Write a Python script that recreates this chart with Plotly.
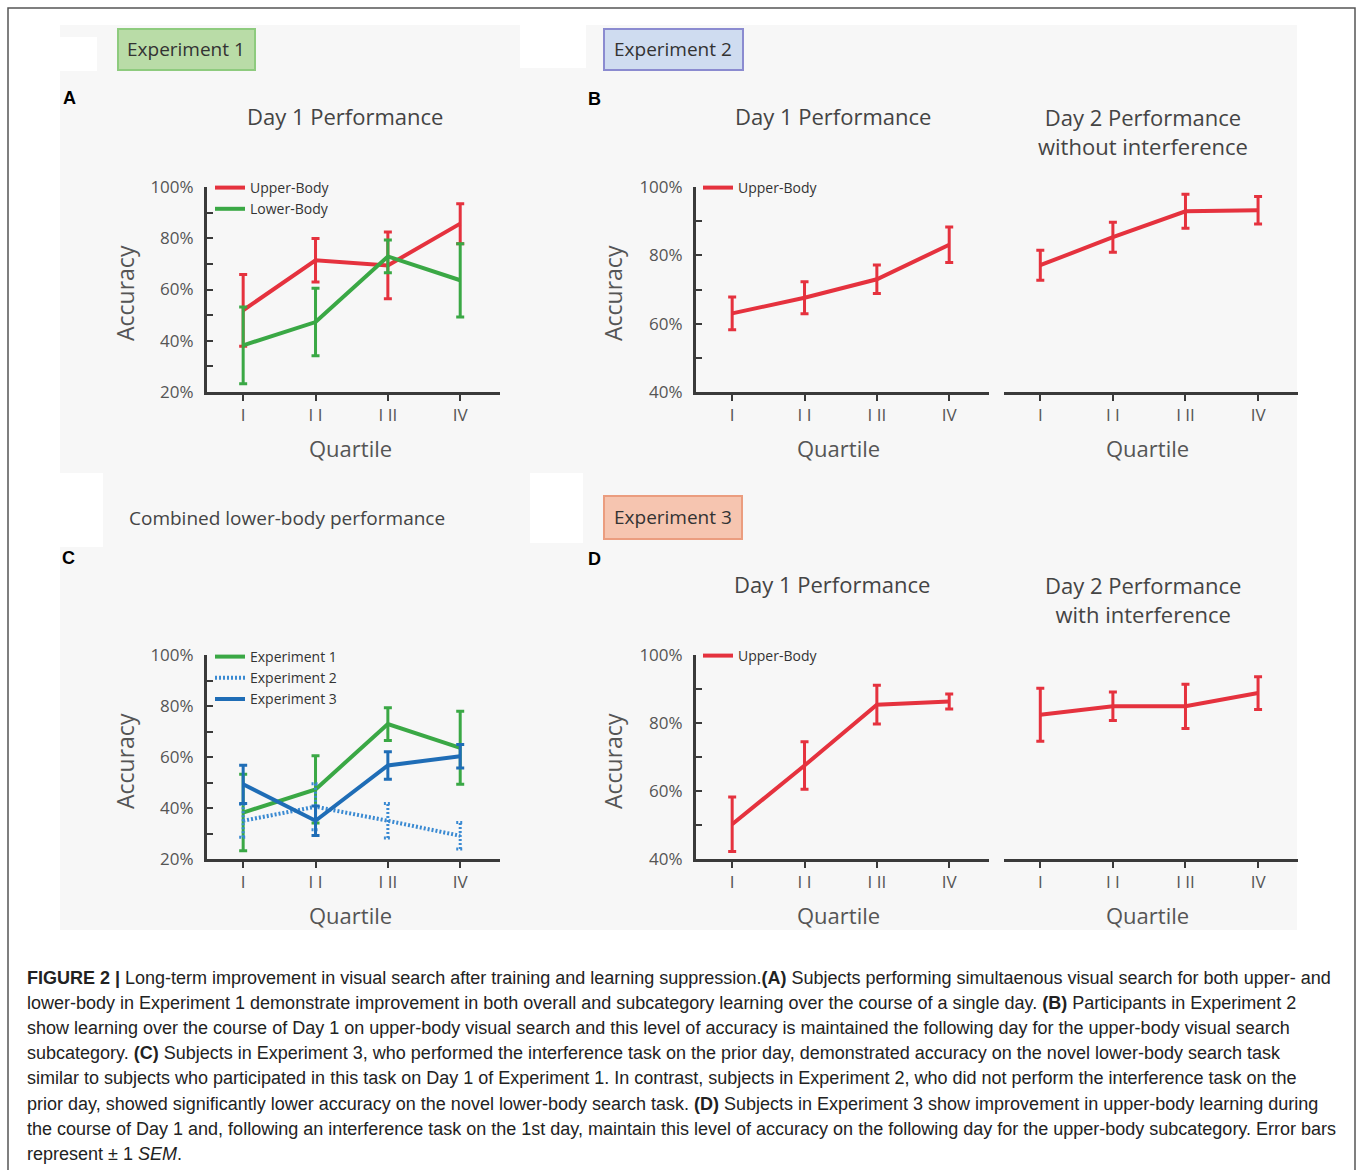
import plotly.graph_objects as go

# ---------------- data ----------------
quartiles = [1, 2, 3, 4]
quartile_labels = ["I", "I I", "I II", "IV"]

# Panel A - Experiment 1, Day 1
a_upper = [51.9, 71.4, 69.4, 85.7]
a_upper_err = [14.0, 8.5, 13.0, 7.8]
a_lower = [38.2, 47.3, 72.9, 63.6]
a_lower_err = [15.0, 13.2, 6.4, 14.3]

# Panel B - Experiment 2
b_day1 = [63.0, 67.6, 73.0, 83.1]
b_day1_err = [4.8, 4.7, 4.2, 5.2]
b_day2 = [77.1, 85.3, 92.9, 93.2]
b_day2_err = [4.4, 4.4, 5.0, 4.0]

# Panel C - combined lower-body
c_exp1 = [38.2, 47.3, 72.9, 63.6]
c_exp1_err = [15.0, 13.2, 6.4, 14.3]
c_exp2 = [35.0, 40.5, 35.0, 29.1]
c_exp2_err = [6.5, 9.0, 6.8, 5.2]
c_exp3 = [49.3, 35.0, 56.7, 60.3]
c_exp3_err = [7.5, 5.8, 5.4, 4.6]

# Panel D - Experiment 3
d_day1 = [50.2, 67.5, 85.4, 86.3]
d_day1_err = [8.0, 7.0, 5.7, 2.2]
d_day2 = [82.4, 84.9, 84.9, 88.8]
d_day2_err = [7.8, 4.2, 6.5, 4.8]

ticks_20 = [20, 40, 60, 80, 100]
ticks_40 = [40, 60, 80, 100]

caption_lines = [
    "<b>FIGURE 2 |</b> Long-term improvement in visual search after training and learning suppression.<b>(A)</b> Subjects performing simultaenous visual search for both upper- and",
    "lower-body in Experiment 1 demonstrate improvement in both overall and subcategory learning over the course of a single day. <b>(B)</b> Participants in Experiment 2",
    "show learning over the course of Day 1 on upper-body visual search and this level of accuracy is maintained the following day for the upper-body visual search",
    "subcategory. <b>(C)</b> Subjects in Experiment 3, who performed the interference task on the prior day, demonstrated accuracy on the novel lower-body search task",
    "similar to subjects who participated in this task on Day 1 of Experiment 1. In contrast, subjects in Experiment 2, who did not perform the interference task on the",
    "prior day, showed significantly lower accuracy on the novel lower-body search task. <b>(D)</b> Subjects in Experiment 3 show improvement in upper-body learning during",
    "the course of Day 1 and, following an interference task on the 1st day, maintain this level of accuracy on the following day for the upper-body subcategory. Error bars",
    "represent \u00b1 1 <i>SEM</i>.",
]

# ---------------- styling ----------------
W, H = 1357, 1170
RED = "#e5323e"
GREEN = "#3aa845"
BLUE = "#1f6db6"
BLUE_DOT = "#3a8ad2"
AXC = "#3a3a3a"
TXT = "#444444"
FONT = "Open Sans"
CAP = 0.055


def fx(px):
    return px / W


def fy(py):
    return 1 - py / H


fig = go.Figure()


def line_trace(x, y, err, color, name, xa, ya, legend, show=True, dash=None):
    fig.add_trace(go.Scatter(
        x=x, y=y, mode="lines", name=name,
        line=dict(color=color, width=4, dash=dash),
        error_y=None if err is None else dict(type="data", array=err, color=color, thickness=3, width=4),
        xaxis=xa, yaxis=ya, legend=legend, showlegend=show, hoverinfo="skip"))


# Panel A
line_trace(quartiles, a_upper, a_upper_err, RED, "Upper-Body", "x", "y", "legend")
line_trace(quartiles, a_lower, a_lower_err, GREEN, "Lower-Body", "x", "y", "legend")

# Panel B
line_trace(quartiles, b_day1, b_day1_err, RED, "Upper-Body", "x2", "y2", "legend2")
line_trace(quartiles, b_day2, b_day2_err, RED, "Upper-Body", "x3", "y2", "legend2", show=False)

# Panel C
line_trace(quartiles, c_exp1, c_exp1_err, GREEN, "Experiment 1", "x4", "y4", "legend3")
# dotted error bars for experiment 2, built from the data
ex, ey = [], []
for q, v, e in zip(quartiles, c_exp2, c_exp2_err):
    ex += [q, q, None, q - CAP, q + CAP, None, q - CAP, q + CAP, None]
    ey += [v - e, v + e, None, v + e, v + e, None, v - e, v - e, None]
fig.add_trace(go.Scatter(x=ex, y=ey, mode="lines", line=dict(color=BLUE_DOT, width=3, dash="2px,2px"),
                         xaxis="x4", yaxis="y4", showlegend=False, hoverinfo="skip", legend="legend3"))
line_trace(quartiles, c_exp2, None, BLUE_DOT, "Experiment 2", "x4", "y4", "legend3", dash="2px,2px")
line_trace(quartiles, c_exp3, c_exp3_err, BLUE, "Experiment 3", "x4", "y4", "legend3")

# Panel D
line_trace(quartiles, d_day1, d_day1_err, RED, "Upper-Body", "x5", "y5", "legend4")
line_trace(quartiles, d_day2, d_day2_err, RED, "Upper-Body", "x6", "y5", "legend4", show=False)


def xax(d0, d1, anchor):
    return dict(domain=[fx(d0), fx(d1)], anchor=anchor, range=[0.5, 4.55], automargin=False,
                tickmode="array", tickvals=quartiles, ticktext=quartile_labels, ticks="outside", ticklen=6,
                tickwidth=2, tickcolor=AXC, showline=True, linewidth=3, linecolor=AXC,
                showgrid=False, zeroline=False, ticklabelstandoff=0,
                tickfont=dict(family=FONT, size=17, color="#555555"))


def yax(top, bottom, anchor, lo, majors, show=True):
    minors = [v + 10 for v in majors[:-1]]
    return dict(domain=[fy(bottom), fy(top)], anchor=anchor, range=[lo, 100], automargin=False,
                tickmode="array", tickvals=majors, ticktext=["%d%%" % v for v in majors],
                ticks="inside", ticklen=6, tickwidth=2,
                tickcolor=AXC, showline=show, linewidth=3, linecolor=AXC, showgrid=False,
                zeroline=False, ticklabelstandoff=7,
                minor=dict(tickvals=minors, ticks="inside", ticklen=6, tickwidth=2, tickcolor=AXC),
                tickfont=dict(family=FONT, size=17, color="#555555"))


legend_common = dict(bgcolor="rgba(0,0,0,0)", borderwidth=0, xanchor="left", yanchor="top",
                     itemwidth=30, tracegroupgap=0, font=dict(family=FONT, size=14, color="#333333"))

fig.update_layout(
    width=W, height=H, margin=dict(l=0, r=0, t=0, b=0, pad=0, autoexpand=False),
    paper_bgcolor="white", plot_bgcolor="rgba(0,0,0,0)",
    xaxis=xax(207, 500, "y"),
    yaxis=yax(187, 392, "x", 20, ticks_20),
    xaxis2=xax(696, 989, "y2"),
    yaxis2=yax(187, 392, "x2", 40, ticks_40),
    xaxis3=xax(1004, 1298, "y2"),
    xaxis4=xax(207, 500, "y4"),
    yaxis4=yax(655, 859, "x4", 20, ticks_20),
    xaxis5=xax(696, 989, "y5"),
    yaxis5=yax(655, 859, "x5", 40, ticks_40),
    xaxis6=xax(1004, 1298, "y5"),
    legend=dict(x=fx(210), y=fy(172), **legend_common),
    legend2=dict(x=fx(698), y=fy(172), **legend_common),
    legend3=dict(x=fx(210), y=fy(641), **legend_common),
    legend4=dict(x=fx(698), y=fy(640), **legend_common),
)

shapes = []


def rect(x0, y0, x1, y1, fill, line=None, lw=0, layer="below"):
    shapes.append(dict(type="rect", xref="paper", yref="paper", x0=fx(x0), x1=fx(x1), y0=fy(y0), y1=fy(y1),
                       fillcolor=fill, line=dict(color=line or fill, width=lw), layer=layer))


rect(60, 25, 1297, 930, "#f7f7f7")
for (x0, y0, x1, y1) in [(60, 37, 97, 71), (520, 25, 586, 68), (60, 473, 103, 547), (530, 473, 583, 543)]:
    rect(x0, y0, x1, y1, "#ffffff")
rect(118, 29, 255, 70, "#b9dca7", "#8ecb7e", 2)
rect(604, 29, 743, 70, "#cfdcf0", "#8b8bd0", 2)
rect(604, 496, 742, 539, "#f6c5b0", "#eb9d7f", 2)
shapes.append(dict(type="rect", xref="paper", yref="paper", x0=fx(8), x1=fx(1355), y0=fy(1190), y1=fy(8),
                   line=dict(color="#555555", width=1.5), fillcolor="rgba(0,0,0,0)", layer="above"))
fig.update_layout(shapes=shapes)

annotations = []


def text(x, y, s, size=22, color=TXT, family=FONT, xanchor="center", angle=0):
    annotations.append(dict(xref="paper", yref="paper", x=fx(x), y=fy(y), text=s, showarrow=False,
                            xanchor=xanchor, yanchor="middle", textangle=angle, align="center",
                            font=dict(family=family, size=size, color=color)))


# experiment labels
text(186, 49, "Experiment 1", 19, "#333333")
text(673, 49, "Experiment 2", 19, "#333333")
text(673, 517, "Experiment 3", 19, "#333333")
# panel letters
for (x, y, s) in [(69, 98, "A"), (594, 99, "B"), (68, 558, "C"), (594, 559, "D")]:
    text(x, y, "<b>%s</b>" % s, 18, "#000000", "Liberation Sans")
# panel titles
text(345, 116, "Day 1 Performance")
text(833, 116, "Day 1 Performance")
text(1143, 131, "Day 2 Performance<br>without interference")
text(287, 518, "Combined lower-body performance", 19)
text(832, 584, "Day 1 Performance")
text(1143, 599, "Day 2 Performance<br>with interference")
# axis titles
for (x, y) in [(125, 293), (613, 293), (125, 761), (613, 761)]:
    text(x, y, "Accuracy", 23, "#555555", angle=-90)
for (x, y) in [(350, 448), (838, 448), (1147, 448), (350, 915), (838, 915), (1147, 915)]:
    text(x, y, "Quartile", 22, "#555555")
# caption
for i, line in enumerate(caption_lines):
    text(25, 978 + i * 25.1, line, 18, "#222222", "Liberation Sans", xanchor="left")

fig.update_layout(annotations=annotations)

fig.write_html("out.html", config={"displayModeBar": False},
               post_script="document.body.style.margin='0';document.body.style.overflow='hidden';")
